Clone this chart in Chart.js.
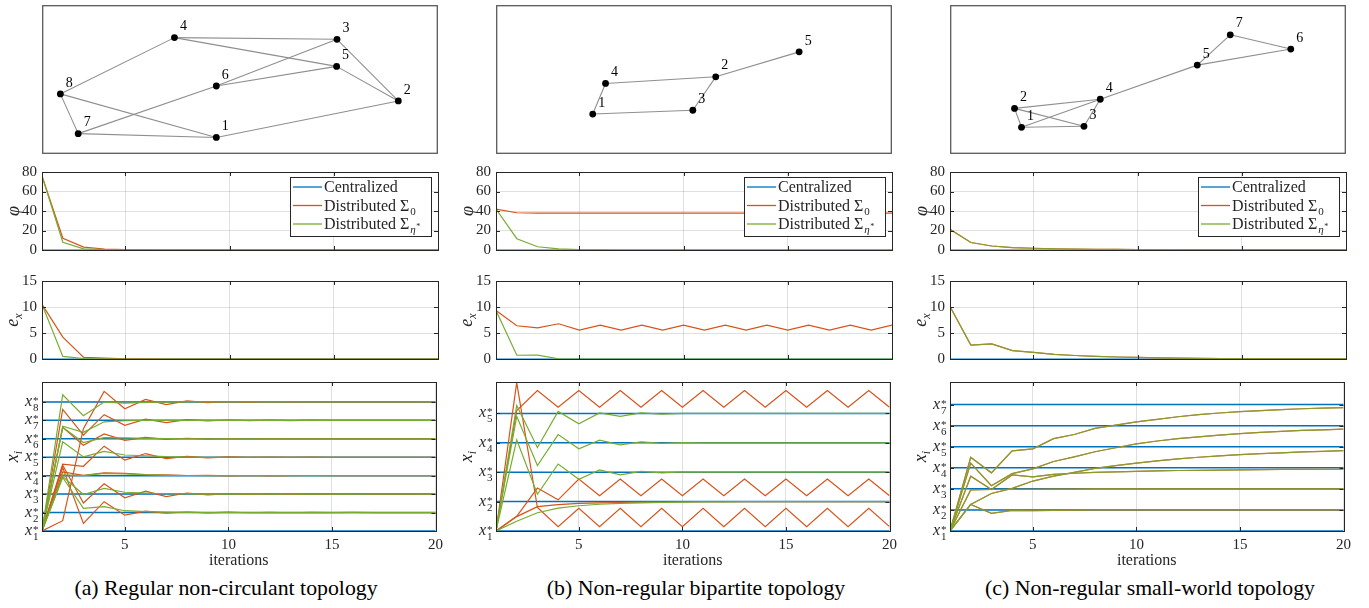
<!DOCTYPE html>
<html>
<head>
<meta charset="utf-8">
<script src="https://cdn.jsdelivr.net/npm/chart.js@4.4.1/dist/chart.umd.min.js"></script>
<style>
  body { margin: 0; background: #fff; width: 1369px; height: 608px; position: relative; overflow: hidden; font-family: "Liberation Serif", serif; }
  canvas { position: absolute; }
  .cap { position: absolute; top: 576px; font-size: 21.8px; white-space: nowrap; transform: translateX(-50%); color: #000; }
</style>
</head>
<body>
<div class="cap" style="left:226px">(a) Regular non-circulant topology</div>
<div class="cap" style="left:696px">(b) Non-regular bipartite topology</div>
<div class="cap" style="left:1150px">(c) Non-regular small-world topology</div>
<script>
// ---------- data ----------
const iterations = [1, 2, 3, 4, 5, 6, 7, 8, 9, 10, 11, 12, 13, 14, 15, 16, 17, 18, 19, 20];
const zeros = [0, 0, 0, 0, 0, 0, 0, 0, 0, 0, 0, 0, 0, 0, 0, 0, 0, 0, 0, 0];

// (a) regular non-circulant topology
const nodesA = [[43.9, 8.9], [90.8, 34.8], [75.0, 78.5], [33.1, 79.7], [74.9, 59.3], [43.9, 45.4], [8.3, 11.6], [3.7, 39.8]];
const edgesA = [[4, 3], [4, 5], [4, 8], [3, 6], [3, 2], [5, 6], [5, 2], [8, 1], [8, 7], [7, 6], [7, 1], [1, 2]];
const phiA_sig0 = [76, 12, 3, 1, 0.3, 0.1, 0, 0, 0, 0, 0, 0, 0, 0, 0, 0, 0, 0, 0, 0];
const phiA_eta = [76, 8, 1.2, 0.4, 0.1, 0, 0, 0, 0, 0, 0, 0, 0, 0, 0, 0, 0, 0, 0, 0];
const exA_sig0 = [10.5, 4.2, 0.3, 0.15, 0.05, 0.02, 0, 0, 0, 0, 0, 0, 0, 0, 0, 0, 0, 0, 0, 0];
const exA_eta = [10.5, 0.5, 0.1, 0.03, 0, 0, 0, 0, 0, 0, 0, 0, 0, 0, 0, 0, 0, 0, 0, 0];
const xStarA = [1, 2, 3, 4, 5, 6, 7, 8];
const xiA_sig0 = [
  [1, 4.44, 1.41, 2.59, 1.86, 2.08, 1.97, 2.03, 1.98, 2.02, 1.99, 2.01, 1.99, 2.01, 2, 2.01, 2, 2, 2, 2],
  [1, 4.57, 2.52, 3.56, 2.8, 3.16, 2.86, 3.06, 2.96, 3.03, 2.98, 3.01, 2.99, 3.01, 3, 3.01, 3, 3, 3, 3],
  [1, 4.2, 4.02, 4.15, 4.12, 4.06, 4.04, 4.01, 4.02, 3.99, 4.01, 3.99, 4, 4.01, 4, 4, 4, 4, 4, 4],
  [1, 4.62, 4.51, 5.6, 4.84, 5.2, 4.93, 5.05, 4.97, 5.02, 4.99, 5.01, 4.99, 5.01, 5, 5, 5, 5, 5, 5],
  [1, 6.62, 5.65, 6.26, 5.92, 6.08, 5.97, 6.03, 5.98, 6.01, 5.99, 6.01, 6, 6, 6, 6, 6, 6, 6, 6],
  [1, 7.6, 6.2, 7.31, 6.73, 7.07, 6.88, 7.04, 6.97, 7.02, 6.99, 7.01, 6.99, 7.01, 7, 7, 7, 7, 7, 7],
  [1, 1.56, 6.55, 8.57, 7.63, 8.14, 7.85, 8.06, 7.96, 8.02, 7.98, 8.01, 7.99, 8.01, 8, 8, 8, 8, 8, 8]
];
const xiA_eta = [
  [1, 3.9, 2.23, 2.32, 2.1, 2.05, 2.02, 2.01, 2, 2, 2, 2, 2, 2, 2, 2, 2, 2, 2, 2],
  [1, 3.95, 2.98, 3.31, 3.1, 3.06, 3.02, 3.01, 3, 3, 3, 3, 3, 3, 3, 3, 3, 3, 3, 3],
  [1, 4.05, 4.0, 4.12, 4.1, 4.05, 4.02, 4.01, 4, 4, 4, 4, 4, 4, 4, 4, 4, 4, 4, 4],
  [1, 5.84, 5.02, 5.32, 5.12, 5.08, 5.03, 5.01, 5, 5, 5, 5, 5, 5, 5, 5, 5, 5, 5, 5],
  [1, 6.62, 5.8, 6.06, 6.05, 6.02, 6.01, 6, 6, 6, 6, 6, 6, 6, 6, 6, 6, 6, 6, 6],
  [1, 6.68, 6.35, 6.92, 6.98, 7, 7, 7, 7, 7, 7, 7, 7, 7, 7, 7, 7, 7, 7, 7],
  [1, 8.39, 7.25, 7.99, 7.93, 7.98, 7.99, 8, 8, 8, 8, 8, 8, 8, 8, 8, 8, 8, 8, 8]
];

// (b) non-regular bipartite topology
const nodesB = [[23.9, 25.5], [55.6, 51.9], [49.7, 28.2], [27.2, 47.2], [77.1, 69.6]];
const edgesB = [[1, 4], [4, 2], [2, 3], [3, 1], [2, 5]];
const phiB_sig0 = [42, 38.2, 37.8, 37.8, 37.8, 37.8, 37.8, 37.8, 37.8, 37.8, 37.8, 37.8, 37.8, 37.8, 37.8, 37.8, 37.8, 37.8, 37.8, 37.8];
const phiB_eta = [42, 11.6, 3.3, 1.2, 0.3, 0.1, 0, 0, 0, 0, 0, 0, 0, 0, 0, 0, 0, 0, 0, 0];
const exB_sig0 = [9.33, 6.39, 6.0, 6.78, 5.56, 6.5, 5.56, 6.5, 5.56, 6.5, 5.56, 6.5, 5.56, 6.5, 5.56, 6.5, 5.56, 6.5, 5.56, 6.5];
const exB_eta = [9.33, 0.72, 0.75, 0.05, 0, 0, 0, 0, 0, 0, 0, 0, 0, 0, 0, 0, 0, 0, 0, 0];
const xStarB = [1, 2, 3, 4, 5];
const xiB_sig0 = [
  [1, 1.49, 1.83, 1.9, 1.94, 1.96, 1.97, 1.98, 1.99, 1.99, 2, 2, 2, 2, 2, 2, 2, 2, 2, 2],
  [1, 6.05, 1.8, 1.15, 1.77, 1.15, 1.77, 1.15, 1.77, 1.15, 1.77, 1.15, 1.77, 1.15, 1.77, 1.15, 1.77, 1.15, 1.77, 1.15],
  [1, 1.5, 2.46, 2.06, 2.77, 2.2, 2.77, 2.2, 2.77, 2.2, 2.77, 2.2, 2.77, 2.2, 2.77, 2.2, 2.77, 2.2, 2.77, 2.2],
  [1, 5.1, 5.78, 5.21, 5.78, 5.21, 5.78, 5.21, 5.78, 5.21, 5.78, 5.21, 5.78, 5.21, 5.78, 5.21, 5.78, 5.21, 5.78, 5.21]
];
const xiB_eta = [
  [1, 1.33, 1.62, 1.78, 1.86, 1.91, 1.94, 1.96, 1.97, 1.98, 1.99, 1.99, 2, 2, 2, 2, 2, 2, 2, 2],
  [1, 4.1, 2.25, 3.28, 2.76, 3.08, 2.91, 3.03, 2.98, 3.01, 3, 3, 3, 3, 3, 3, 3, 3, 3, 3],
  [1, 4.9, 3.23, 4.28, 3.8, 4.09, 3.93, 4.03, 3.98, 4.01, 4, 4, 4, 4, 4, 4, 4, 4, 4, 4],
  [1, 5.27, 3.84, 5.07, 4.65, 5.02, 4.9, 5.02, 4.98, 5, 5, 5, 5, 5, 5, 5, 5, 5, 5, 5]
];

// (c) non-regular small-world topology
const nodesC = [[17.4, 16.1], [15.6, 29.5], [33.5, 16.8], [37.7, 36.0], [62.7, 60.2], [86.8, 71.6], [71.2, 81.7]];
const edgesC = [[2, 4], [2, 3], [2, 1], [1, 4], [1, 3], [3, 4], [4, 5], [5, 7], [7, 6], [6, 5]];
const phiC_sig0 = [21.3, 7.7, 4.1, 2.4, 1.8, 1.3, 1.0, 0.75, 0.55, 0.42, 0.32, 0.25, 0.2, 0.15, 0.12, 0.1, 0.08, 0.06, 0.05, 0.04];
const phiC_eta = [21.3, 7.7, 4.1, 2.4, 1.8, 1.3, 1.0, 0.75, 0.55, 0.42, 0.32, 0.25, 0.2, 0.15, 0.12, 0.1, 0.08, 0.06, 0.05, 0.04];
const exC_sig0 = [10.1, 2.67, 2.89, 1.61, 1.28, 0.89, 0.67, 0.5, 0.38, 0.3, 0.22, 0.16, 0.12, 0.09, 0.07, 0.05, 0.04, 0.03, 0.02, 0.02];
const exC_eta = [10.1, 2.67, 2.89, 1.61, 1.28, 0.89, 0.67, 0.5, 0.38, 0.3, 0.22, 0.16, 0.12, 0.09, 0.07, 0.05, 0.04, 0.03, 0.02, 0.02];
const xStarC = [1, 2, 3, 4, 5, 6, 7];
const xiC_sig0 = [
  [1, 2.26, 1.84, 1.98, 1.96, 1.98, 1.99, 2, 2, 2, 2, 2, 2, 2, 2, 2, 2, 2, 2, 2],
  [1, 2.95, 2.97, 2.98, 2.98, 2.99, 2.99, 3, 3, 3, 3, 3, 3, 3, 3, 3, 3, 3, 3, 3],
  [1, 3.6, 2.97, 3.66, 3.57, 3.69, 3.74, 3.78, 3.81, 3.83, 3.85, 3.87, 3.88, 3.89, 3.9, 3.91, 3.92, 3.92, 3.93, 3.93],
  [1, 2.26, 2.78, 3.02, 3.37, 3.6, 3.78, 3.97, 4.1, 4.22, 4.33, 4.42, 4.5, 4.56, 4.62, 4.67, 4.71, 4.75, 4.78, 4.81],
  [1, 4.22, 3.15, 3.72, 3.95, 4.3, 4.52, 4.76, 4.95, 5.13, 5.27, 5.38, 5.47, 5.55, 5.62, 5.68, 5.73, 5.77, 5.8, 5.83],
  [1, 4.5, 3.76, 4.8, 4.9, 5.38, 5.58, 5.87, 6.02, 6.18, 6.3, 6.42, 6.52, 6.6, 6.66, 6.71, 6.76, 6.8, 6.83, 6.85]
];
const xiC_eta = xiC_sig0;

// ---------- styling ----------
const SERIF = '"Liberation Serif", "Times New Roman", serif';
const BLUE = '#0072BD', ORANGE = '#D95319', GREEN = '#77AC30';
const INK = '#262626';
const GRID = 'rgba(0,0,0,0.12)';
const PLOT_W = 396;

function addCanvas(x, y, w, h) {
  const c = document.createElement('canvas');
  c.width = w; c.height = h;
  c.style.left = x + 'px'; c.style.top = y + 'px';
  c.style.width = w + 'px'; c.style.height = h + 'px';
  document.body.appendChild(c);
  return c;
}

function yTitle(ctx, a, kind) {
  ctx.save();
  ctx.translate(a.left - 28, (a.top + a.bottom) / 2);
  ctx.rotate(-Math.PI / 2);
  ctx.fillStyle = INK;
  ctx.textBaseline = 'alphabetic';
  if (kind === 'phi') {
    ctx.font = 'italic 18px ' + SERIF;
    ctx.textAlign = 'center';
    ctx.fillText('φ', 0, 5);
  } else {
    const base = kind === 'ex' ? 'e' : 'x';
    const sub = kind === 'ex' ? 'x' : 'i';
    ctx.font = 'italic 18px ' + SERIF;
    const w1 = ctx.measureText(base).width;
    ctx.font = 'italic 12px ' + SERIF;
    const w2 = ctx.measureText(sub).width;
    const x0 = -(w1 + w2) / 2;
    ctx.textAlign = 'left';
    ctx.font = 'italic 18px ' + SERIF;
    ctx.fillText(base, x0, 4);
    ctx.font = 'italic 12px ' + SERIF;
    ctx.fillText(sub, x0 + w1, 8);
  }
  ctx.restore();
}

function legendBox(ctx, a) {
  const w = 141, h = 59, x = a.right - 7 - w, y = a.top + 5;
  ctx.save();
  ctx.fillStyle = '#fff';
  ctx.fillRect(x, y, w, h);
  ctx.strokeStyle = INK; ctx.lineWidth = 1;
  ctx.strokeRect(x + 0.5, y + 0.5, w, h);
  const rows = [[BLUE, 'Centralized', ''], [ORANGE, 'Distributed Σ', '0'], [GREEN, 'Distributed Σ', 'η']];
  rows.forEach((r, i) => {
    const cy = y + 10 + i * 18.5;
    ctx.strokeStyle = r[0]; ctx.lineWidth = 1.3;
    ctx.beginPath(); ctx.moveTo(x + 3, cy); ctx.lineTo(x + 32, cy); ctx.stroke();
    ctx.fillStyle = INK; ctx.textAlign = 'left'; ctx.textBaseline = 'alphabetic';
    ctx.font = '16px ' + SERIF;
    ctx.fillText(r[1], x + 34, cy + 5);
    const tw = ctx.measureText(r[1]).width;
    if (r[2] === '0') {
      ctx.font = '11px ' + SERIF;
      ctx.fillText('0', x + 34 + tw + 1, cy + 9);
    } else if (r[2] === 'η') {
      ctx.font = 'italic 11px ' + SERIF;
      ctx.fillText('η', x + 34 + tw + 1, cy + 9);
      const ew = ctx.measureText('η').width;
      ctx.font = '8px ' + SERIF;
      ctx.fillText('*', x + 34 + tw + 1 + ew + 0.5, cy + 5);
    }
  });
  ctx.restore();
}

function xStarLabels(ctx, a, ys, stars) {
  ctx.save();
  ctx.fillStyle = INK; ctx.textAlign = 'left'; ctx.textBaseline = 'alphabetic';
  stars.forEach(k => {
    const y = ys.getPixelForValue(k);
    ctx.font = 'italic 16px ' + SERIF;
    ctx.fillText('x', a.left - 17, y + 4);
    ctx.font = '11px ' + SERIF;
    ctx.fillText('*', a.left - 9, y + 2);
    ctx.fillText(String(k), a.left - 9, y + 9);
  });
  ctx.restore();
}

const panelDeco = {
  id: 'panelDeco',
  afterDraw(chart, args, o) {
    const ctx = chart.ctx, a = chart.chartArea, xs = chart.scales.x, ys = chart.scales.y;
    ctx.save();
    ctx.strokeStyle = INK; ctx.lineWidth = 1;
    ctx.beginPath();
    xs.ticks.forEach(t => {
      const px = Math.round(xs.getPixelForValue(t.value)) + 0.5;
      ctx.moveTo(px, a.bottom); ctx.lineTo(px, a.bottom - 4);
      ctx.moveTo(px, a.top); ctx.lineTo(px, a.top + 4);
    });
    ys.ticks.forEach(t => {
      const py = Math.round(ys.getPixelForValue(t.value)) + 0.5;
      ctx.moveTo(a.left, py); ctx.lineTo(a.left + 4, py);
      ctx.moveTo(a.right, py); ctx.lineTo(a.right - 4, py);
    });
    ctx.stroke();
    ctx.strokeRect(Math.round(a.left) + 0.5, Math.round(a.top) + 0.5, Math.round(a.width), Math.round(a.height));
    ctx.restore();
    yTitle(ctx, a, o.kind);
    if (o.kind === 'phi') legendBox(ctx, a);
    if (o.kind === 'xi') {
      xStarLabels(ctx, a, ys, o.stars);
      ctx.save();
      ctx.fillStyle = INK; ctx.font = '16px ' + SERIF;
      ctx.textAlign = 'center'; ctx.textBaseline = 'middle';
      ctx.fillText('iterations', (a.left + a.right) / 2, a.bottom + 30);
      ctx.restore();
    }
  }
};

const topoDeco = {
  id: 'topoDeco',
  afterDraw(chart, args, o) {
    const ctx = chart.ctx, xs = chart.scales.x, ys = chart.scales.y;
    ctx.save();
    ctx.strokeStyle = '#5a5a5a'; ctx.lineWidth = 1.3;
    ctx.strokeRect(0.7, 0.7, chart.width - 1.4, chart.height - 1.4);
    ctx.fillStyle = '#000'; ctx.font = '14px ' + SERIF;
    ctx.textAlign = 'center'; ctx.textBaseline = 'middle';
    o.nodes.forEach((p, i) => {
      ctx.fillText(String(i + 1), xs.getPixelForValue(p[0]) + 9, ys.getPixelForValue(p[1]) - 11);
    });
    ctx.restore();
  }
};

function topoPanel(left, nodes, edges) {
  const cv = addCanvas(left, 5, PLOT_W, 149);
  const datasets = [{
    data: nodes.map(p => ({ x: p[0], y: p[1] })),
    pointRadius: 3.4, pointBackgroundColor: '#000', pointBorderWidth: 0, showLine: false
  }];
  edges.forEach(([i, j]) => datasets.push({
    data: [{ x: nodes[i - 1][0], y: nodes[i - 1][1] }, { x: nodes[j - 1][0], y: nodes[j - 1][1] }],
    showLine: true, borderColor: '#8f8f8f', borderWidth: 1.1, pointRadius: 0
  }));
  new Chart(cv, {
    type: 'scatter',
    data: { datasets },
    options: {
      responsive: false, animation: false,
      layout: { padding: 0 },
      plugins: { legend: { display: false }, tooltip: { enabled: false }, topoDeco: { nodes } },
      scales: { x: { display: false, min: 0, max: 100 }, y: { display: false, min: 0, max: 100 } }
    },
    plugins: [topoDeco]
  });
}

function linePanel(left, top, h, kind, datasets, yOpts) {
  // the axes take the margins themselves so that their labels are not clipped
  const padL = 48, padR = 10, padT = 8, padB = kind === 'xi' ? 48 : 8;
  const cv = addCanvas(left - padL, top - padT, PLOT_W + padL + padR, h + padT + padB);
  new Chart(cv, {
    type: 'line',
    data: { labels: iterations, datasets },
    options: {
      responsive: false, animation: false,
      layout: { padding: { left: 0, right: padR, top: padT, bottom: 0 } },
      elements: { point: { radius: 0 }, line: { tension: 0, borderWidth: 1.2 } },
      plugins: { legend: { display: false }, tooltip: { enabled: false }, panelDeco: { kind, stars: yOpts.stars } },
      scales: {
        x: {
          type: 'linear', min: 1, max: 20,
          afterBuildTicks: s => { s.ticks = [5, 10, 15, 20].map(v => ({ value: v })); },
          afterFit: s => { s.height = padB; },
          border: { display: false },
          grid: { color: GRID, drawTicks: false },
          ticks: { display: kind === 'xi', color: INK, font: { family: SERIF, size: 15 }, padding: 5, maxRotation: 0, autoSkip: false }
        },
        y: {
          min: yOpts.min, max: yOpts.max,
          afterBuildTicks: s => { s.ticks = yOpts.ticks.map(v => ({ value: v })); },
          afterFit: s => { s.width = padL; },
          border: { display: false },
          grid: { color: GRID, drawTicks: false },
          ticks: { display: kind !== 'xi', color: INK, font: { family: SERIF, size: 15 }, padding: 5, autoSkip: false }
        }
      }
    },
    plugins: [panelDeco]
  });
}

function series(data, color, order, width) {
  return { data, borderColor: color, order, borderWidth: width || 1.2, fill: false };
}

const columns = [
  { left: 42, nodes: nodesA, edges: edgesA, phi: [phiA_sig0, phiA_eta], ex: [exA_sig0, exA_eta], stars: xStarA, xi: [xiA_sig0, xiA_eta], xiMax: 9.08, green: GREEN },
  { left: 496, nodes: nodesB, edges: edgesB, phi: [phiB_sig0, phiB_eta], ex: [exB_sig0, exB_eta], stars: xStarB, xi: [xiB_sig0, xiB_eta], xiMax: 6.07, green: GREEN },
  { left: 950, nodes: nodesC, edges: edgesC, phi: [phiC_sig0, phiC_eta], ex: [exC_sig0, exC_eta], stars: xStarC, xi: [xiC_sig0, xiC_eta], xiMax: 8.07, green: 'rgba(119,172,48,0.8)' }
];

columns.forEach(c => {
  topoPanel(c.left, c.nodes, c.edges);
  linePanel(c.left, 166, 90, 'phi',
    [series(zeros, BLUE, 3), series(c.phi[0], ORANGE, 2), series(c.phi[1], c.green, 1)],
    { min: 0, max: 80, ticks: [0, 20, 40, 60, 80] });
  linePanel(c.left, 275, 90, 'ex',
    [series(zeros, BLUE, 3), series(c.ex[0], ORANGE, 2), series(c.ex[1], c.green, 1)],
    { min: 0, max: 15, ticks: [0, 5, 10, 15] });
  const ds = [];
  c.stars.forEach(k => ds.push(series(iterations.map(() => k), BLUE, 3, 1.5)));
  c.xi[0].forEach(s => ds.push(series(s, ORANGE, 2)));
  c.xi[1].forEach(s => ds.push(series(s, c.green, 1)));
  linePanel(c.left, 382, 149, 'xi', ds, { min: 1, max: c.xiMax, ticks: c.stars, stars: c.stars });
});
</script>
</body>
</html>
